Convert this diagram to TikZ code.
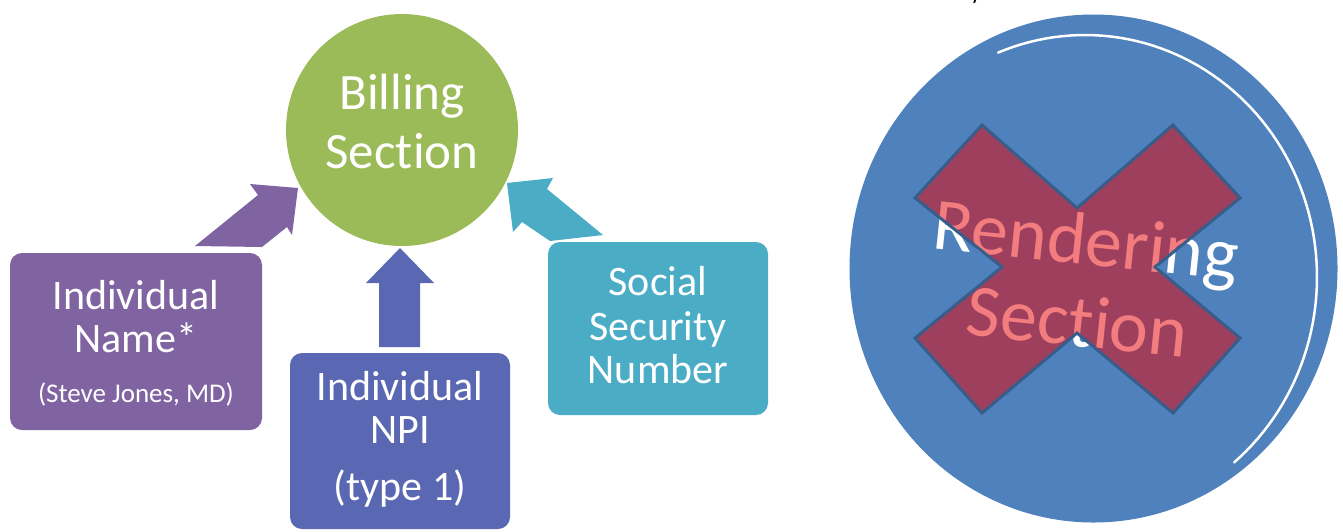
\documentclass[tikz,border=0pt]{standalone}
\usepackage{fontspec}
\setmainfont{Carlito}[Ligatures={NoCommon,NoContextual,NoRequired}]
\definecolor{bgreen}{HTML}{9BBB59}
\definecolor{bpurple}{HTML}{8064A2}
\definecolor{bnpi}{HTML}{5A67B3}
\definecolor{bcyan}{HTML}{4BACC6}
\definecolor{dblue}{HTML}{4F81BD}
\definecolor{xred}{RGB}{232,4,8}
\definecolor{xborder}{RGB}{56,93,138}
\tikzset{
  boxnode/.style={rectangle, rounded corners=12pt, inner sep=0pt},
  lbl/.style={anchor=base, inner sep=0pt, text=white},
  big/.style={font=\fontsize{51}{60}\selectfont},
  mid/.style={font=\fontsize{42}{50}\selectfont},
  small/.style={font=\fontsize{27}{32}\selectfont},
}
\begin{document}
\begin{tikzpicture}[x=1pt,y=-1pt]
\useasboundingbox (0,0) rectangle (1343,531);
\fill[white] (0,0) rectangle (1343,531);

% Billing circle
\node[circle, fill=bgreen, minimum size=232pt, inner sep=0pt] (billing) at (402,130) {};
\node[lbl, big] (b1) at (402,109) {Billing};
\node[lbl, big] (b2) at (402,168) {Sect\kern0pt ion};

% boxes
\node[boxnode, fill=bpurple, minimum width=252pt, minimum height=177pt] (name) at (136,341.5) {};
\node[lbl, mid] (n1) at (136,309) {Individual};
\node[lbl, mid] (n2) at (136,352) {Name*};
\node[lbl, small] (n3) at (136,402) {(Steve Jones, MD)};

\node[boxnode, fill=bnpi, minimum width=220pt, minimum height=176pt] (npi) at (400,441) {};
\node[lbl, mid] (p1) at (400,400) {Individual};
\node[lbl, mid] (p2) at (400,443) {NPI};
\node[lbl, mid] (p3) at (400,500) {(type 1)};

\node[boxnode, fill=bcyan, minimum width=220pt, minimum height=173pt] (ssn) at (658,328.5) {};
\node[lbl, mid] (s1) at (658,295) {Social};
\node[lbl, mid] (s2) at (658,340) {Security};
\node[lbl, mid] (s3) at (658,383) {Number};

% block arrows
\fill[bpurple] (195,246) -- (258,195) -- (250,184) -- (298,188) -- (292,235) -- (287,227) -- (262,247) -- cycle;
\fill[bnpi] (379,347) -- (379,283) -- (366,283) -- (400,248) -- (434,283) -- (420,283) -- (420,347) -- cycle;
\fill[bcyan] (507,183) -- (553,178) -- (547,189) -- (603,235) -- (550,241) -- (522,222) -- (513,232) -- cycle;

% Rendering disk
\fill[dblue] (1093.5,268.5) ellipse [x radius=244, y radius=254];
\fill[dblue] (1085,277) ellipse [x radius=232, y radius=242];
\draw[white, line width=2.5pt, line cap=round] plot[domain=-50:112, samples=80] ({1085+232*cos(\x)},{277-242*sin(\x)});
\node[rotate=-6, align=center, text=white, inner sep=0pt, font=\fontsize{74}{82}\selectfont] (rend) at (1082,280) {Rendering\\Sect\kern0pt ion};
\filldraw[fill=xred, fill opacity=0.52, draw=xborder, line width=3pt, line join=miter]
  (982,125) -- (1077,208) -- (1173,125) -- (1240,198) -- (1155,267) -- (1240,338)
  -- (1173,413) -- (1077,333) -- (982,413) -- (915,338) -- (1002,267) -- (915,198) -- cycle;

% cut-off text fragment at the top
\node[anchor=base, inner sep=0pt, font=\fontsize{24}{28}\selectfont] (frag) at (976,-1) {y};
\end{tikzpicture}
\end{document}
